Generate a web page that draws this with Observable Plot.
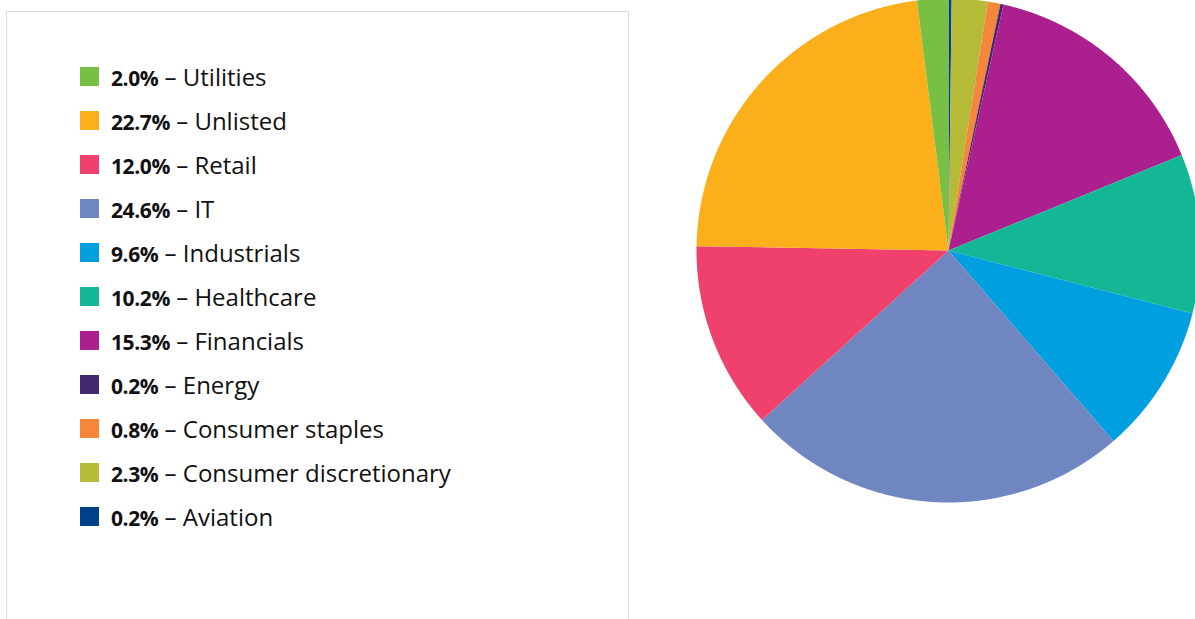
<!DOCTYPE html>
<html><head><meta charset="utf-8">
<script src="https://cdn.jsdelivr.net/npm/d3@7"></script>
<script src="https://cdn.jsdelivr.net/npm/@observablehq/plot@0.6"></script>
<style>
html,body{margin:0;padding:0;background:#fff;}
#wrap{position:relative;width:1195px;height:619px;overflow:hidden;font-family:"Open Sans",sans-serif;}
#box{position:absolute;left:6px;top:11px;width:623px;height:660px;border:1.5px solid #dcdcdc;box-sizing:border-box;}
#legend{position:absolute;left:80px;top:54px;}
.row{height:44px;display:flex;align-items:center;font-size:24px;color:#111;white-space:nowrap;}
.sw{width:19px;height:19px;margin-right:12px;flex:none;}
.row b{font-weight:700;font-size:21px;letter-spacing:-0.4px;}
#chart{position:absolute;left:0;top:0;}
</style></head><body>
<div id="wrap"><div id="box"></div><div id="legend"></div><div id="chart"></div></div>
<script>
// clockwise from 12 o'clock
const categories = ["Aviation","Consumer discretionary","Consumer staples","Energy","Financials","Healthcare","Industrials","IT","Retail","Unlisted","Utilities"];
const shares = [0.2, 2.3, 0.8, 0.2, 15.3, 10.2, 9.6, 24.6, 12.0, 22.7, 2.0];
const shareLabels = ["0.2%","2.3%","0.8%","0.2%","15.3%","10.2%","9.6%","24.6%","12.0%","22.7%","2.0%"];
const colors = ["#00428a","#b5bb36","#f5863a","#43296f","#ab208e","#14b795","#009fdf","#6f86c1","#ef416c","#fbaf1b","#77c043"];
const legendOrder = ["Utilities","Unlisted","Retail","IT","Industrials","Healthcare","Financials","Energy","Consumer staples","Consumer discretionary","Aviation"];

// legend
const legend = document.getElementById("legend");
for (const name of legendOrder) {
  const i = categories.indexOf(name);
  const row = document.createElement("div");
  row.className = "row";
  row.innerHTML = `<span class="sw" style="background:${colors[i]}"></span><span><b>${shareLabels[i]}</b> – ${name}</span>`;
  legend.appendChild(row);
}

// pie slices as filled polygons in unit coordinates
const total = d3.sum(shares);
const pts = [];
let cum = 0;
categories.forEach((cat, i) => {
  const a0 = cum / total * 2 * Math.PI;
  cum += shares[i];
  const a1 = cum / total * 2 * Math.PI;
  const n = Math.max(2, Math.ceil((a1 - a0) / (Math.PI / 720)));
  pts.push({cat, x: 0, y: 0});
  for (let k = 0; k <= n; k++) {
    const a = a0 + (a1 - a0) * k / n;
    pts.push({cat, x: Math.sin(a), y: Math.cos(a)});
  }
  pts.push({cat, x: 0, y: 0});
});

const W = 1195, H = 619, cx = 948, cy = 250, R = 252;
const chart = Plot.plot({
  width: W, height: H,
  margin: 0,
  x: {domain: [-cx / R, (W - cx) / R], axis: null},
  y: {domain: [-(H - cy) / R, cy / R], axis: null},
  color: {domain: categories, range: colors},
  marks: [
    Plot.line(pts, {x: "x", y: "y", z: "cat", fill: "cat", stroke: "none", curve: "linear"})
  ]
});
document.getElementById("chart").appendChild(chart);
</script>
</body></html>
